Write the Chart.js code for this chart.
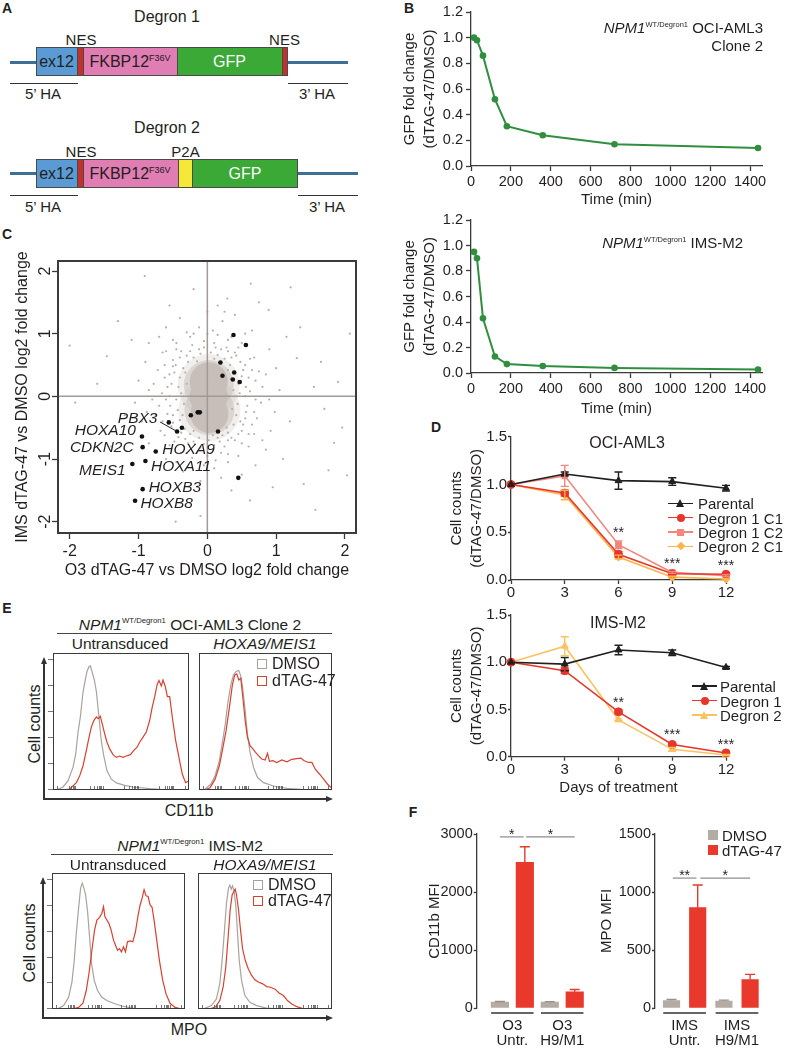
<!DOCTYPE html>
<html><head><meta charset="utf-8">
<script src="https://cdn.jsdelivr.net/npm/chart.js@4.4.1/dist/chart.umd.min.js"></script>
<style>
html,body{margin:0;padding:0;background:#fff}
body{position:relative;width:786px;height:1050px;overflow:hidden;font-family:"Liberation Sans",Arial,Helvetica,sans-serif;color:#231f20}
.a{position:absolute;white-space:nowrap;line-height:1}
canvas{position:absolute}
sup{font-size:0.5em;position:relative;top:-0.8em;vertical-align:baseline;line-height:0}
sup.big{font-size:0.56em;top:-0.7em}
</style>
</head><body>
<script>
// ================= DATA =================
// Panel B: GFP degradation time course
const gfpTimes   = [15, 30, 60, 120, 180, 360, 720, 1440];
const gfpOciAml3 = [1.00, 0.98, 0.86, 0.52, 0.31, 0.24, 0.17, 0.14];
const gfpImsM2   = [0.95, 0.90, 0.43, 0.13, 0.07, 0.055, 0.04, 0.027];
const timeTicks  = [0, 200, 400, 600, 800, 1000, 1200, 1400];
const gfpTicks   = [0, 0.2, 0.4, 0.6, 0.8, 1.0, 1.2];

// Panel C: log2 fold changes (highlighted genes)
const log2Ticks = [-2, -1, 0, 1, 2];
const hitX    = [0.38, 0.56, 0.19, 0.39, 0.22, 0.37, 0.47, -0.14, -0.11, -0.24, 0.155, -0.37, -0.44, -0.56, -0.95, -0.94, -0.75, -0.90, -1.09, -0.94, -1.05, 0.45];
const hitY    = [0.98, 0.82, 0.54, 0.38, 0.33, 0.27, 0.23, -0.255, -0.255, -0.30, -0.56, -0.50, -0.56, -0.415, -0.64, -0.81, -0.88, -1.03, -1.08, -1.48, -1.665, -1.30];
const hitName = ['', '', '', '', '', '', '', '', '', '', '', '', 'PBX3', '', 'HOXA10', 'CDKN2C', 'HOXA9', 'HOXA11', 'MEIS1', 'HOXB3', 'HOXB8', ''];
// dense centre of the gene cloud (centres of the saturated region)
const cloudCore = [[0.02, 0.24], [0.02, 0.0], [0.03, -0.28]];
const cloudHalo = [[0.02, 0.18], [0.03, -0.22]];
// individual genes around the dense centre
const cloudPts = [
 [-0.35,0.45],[-0.28,0.55],[-0.2,0.62],[-0.1,0.68],[0.05,0.7],[0.15,0.66],[0.25,0.6],[0.33,0.5],[0.4,0.38],[-0.4,0.3],[-0.42,0.15],[0.45,0.2],[0.47,0.05],[-0.45,-0.05],[0.44,-0.12],[-0.43,-0.22],[0.42,-0.3],[-0.4,-0.38],[0.38,-0.45],[-0.33,-0.52],[0.3,-0.58],[-0.25,-0.6],[-0.12,-0.66],[0.02,-0.7],[0.15,-0.66],[0.22,-0.62],
 [-0.32,0.38],[-0.38,0.05],[0.38,0.1],[0.36,-0.2],[-0.36,-0.3],[0.3,0.42],[0.1,0.6],[-0.15,0.56],[0.08,-0.62],[-0.2,-0.55],[0.28,-0.5],[-0.3,0.2],[0.34,0.28],[-0.34,-0.12],
 [-0.48,0.38],[0.5,0.32],[-0.5,-0.3],[0.48,-0.4],[-0.3,0.65],[0.2,0.75],[-0.05,0.78],[0.35,0.62],[-0.38,-0.58],[0.1,-0.78],[-0.18,-0.76],[0.35,-0.66],
 [-0.46,0.5],[-0.52,0.2],[-0.55,0.0],[-0.54,-0.15],[-0.5,-0.42],[-0.45,-0.55],[-0.32,-0.68],[-0.2,-0.72],[-0.05,-0.76],[0.18,-0.72],[0.3,-0.7],[0.45,-0.6],[0.52,-0.45],[0.56,-0.25],[0.55,0.0],[0.56,0.15],[0.52,0.42],[0.48,0.55],[0.4,0.7],[0.3,0.72],[0.12,0.78],[-0.12,0.75],[-0.25,0.72],[-0.4,0.62],[-0.5,0.48],
 [-0.55,0.35],[-0.5,0.58],[-0.38,0.72],[-0.22,0.82],[-0.05,0.88],[0.1,0.85],[0.28,0.78],[0.42,0.65],[0.55,0.5],[0.6,0.3],[0.62,0.08],[0.58,-0.15],[0.55,-0.35],[0.5,-0.55],[0.4,-0.7],[0.25,-0.8],[0.08,-0.85],[-0.1,-0.82],[-0.28,-0.75],[-0.42,-0.65],[-0.52,-0.48],[-0.58,-0.28],[-0.6,-0.05],[-0.58,0.15],
 [-0.62,0.5],[0.65,0.42],[0.68,-0.25],[-0.65,-0.4],[0.45,0.78],[-0.45,0.85],[0.15,0.98],[-0.25,0.95],[0.3,-0.92],[-0.3,-0.9],[0.6,-0.6],[-0.6,0.72],
 [-0.62,0.3],[-0.66,0.05],[-0.7,-0.15],[-0.62,-0.62],[-0.48,-0.72],[-0.15,-0.9],[0.0,-0.95],[0.2,-0.9],[0.5,-0.75],[0.65,-0.45],[0.7,-0.05],[0.7,0.25],[0.62,0.6],[0.3,0.9],[0.0,1.0],[-0.2,1.0],[-0.45,0.75],
 [-0.72,0.42],[-0.65,0.7],[-0.5,0.9],[-0.3,1.02],[-0.12,1.1],[0.08,1.05],[0.22,1.2],[0.35,0.95],[0.5,0.85],[0.68,0.62],[0.75,0.4],[0.8,0.15],[0.78,-0.1],[0.72,-0.35],[0.68,-0.6],[0.6,-0.8],[0.45,-0.95],[0.3,-1.05],[0.12,-1.02],[-0.05,-1.1],[-0.22,-0.98],[-0.38,-0.9],[-0.55,-0.78],[-0.68,-0.55],[-0.75,-0.3],[-0.8,-0.05],[-0.78,0.2],
 [0.85,0.35],[0.9,-0.05],[-0.85,0.1],[-0.88,-0.25],[0.55,1.0],[-0.7,0.95],[0.8,-0.7],[-0.45,-1.05],[0.1,-1.15],[0.25,1.35],
 [-0.9,0.55],[-0.85,0.85],[-0.6,1.1],[-0.4,1.25],[0.0,1.35],[0.15,1.45],[0.4,1.3],[0.65,1.05],[0.9,0.75],[1.0,0.45],[1.05,0.1],[0.98,-0.25],[0.92,-0.55],[0.85,-0.85],[0.7,-1.1],[0.5,-1.25],[0.2,-1.3],[-0.1,-1.35],[-0.35,-1.2],[-0.6,-1.0],[-0.85,-0.75],[-0.95,-0.4],[-1.05,-0.1],[-1.0,0.25],
 [-0.91,1.92],[-0.2,1.71],[1.21,1.74],[-2.0,0.81],[-1.46,0.64],[2.07,1.0],[1.9,0.23],[1.96,-0.5],[2.03,-1.26],[1.57,-1.81],[0.62,-1.66],[-0.46,-2.0],[-0.1,-1.91],[1.76,-1.18],[0.63,1.8],[0.29,1.56],[0.89,1.38],[-1.92,-0.1],[1.84,-0.74],[1.3,0.61],[1.55,0.15],[-1.3,1.2],[-1.6,0.2],[-1.2,-0.3],[-1.4,-0.8],[1.2,-0.4],[1.35,1.1],[1.1,-1.0],[-0.7,-1.5],[0.35,-1.5],[1.4,-1.4],[-1.1,0.9],[0.75,1.5],[-0.55,1.45],[1.65,0.55],[1.15,0.95],[-1.7,-0.6],[0.95,-1.45],[1.7,-0.2]
];

// Panel D: cell counts (dTAG-47/DMSO)
const days       = [0, 3, 6, 9, 12];
const countTicks = [0, 0.5, 1.0, 1.5];
const ociParental    = [1.00, 1.11, 1.04, 1.03, 0.96];
const ociParentalErr = [0, 0.02, 0.09, 0.04, 0.03];
const ociDeg1C1      = [1.00, 0.91, 0.27, 0.065, 0.06];
const ociDeg1C1Err   = [0, 0.03, 0.03, 0.01, 0.01];
const ociDeg1C2      = [1.00, 1.09, 0.37, 0.08, 0.045];
const ociDeg1C2Err   = [0, 0.11, 0.04, 0.01, 0.01];
const ociDeg2C1      = [1.00, 0.89, 0.24, 0.03, 0.01];
const ociDeg2C1Err   = [0, 0.05, 0.02, 0.01, 0.005];
const imsParental    = [1.00, 0.98, 1.13, 1.10, 0.945];
const imsParentalErr = [0, 0.07, 0.05, 0.03, 0.01];
const imsDeg1        = [1.00, 0.91, 0.475, 0.13, 0.04];
const imsDeg1Err     = [0, 0.03, 0.02, 0.01, 0.005];
const imsDeg2        = [1.00, 1.17, 0.39, 0.078, 0.018];
const imsDeg2Err     = [0, 0.10, 0.01, 0.02, 0.005];
const ociStars = [[6, 0.50, '**'], [9, 0.18, '***'], [12, 0.16, '***']];
const imsStars = [[6, 0.58, '**'], [9, 0.24, '***'], [12, 0.135, '***']];

// Panel E: flow histograms (x = % of channel range, y = % of max count)
const cd11bUntrDmso = [[0,0],[3.7,0.5],[7.4,2.2],[11,6.6],[14.7,16.5],[16.7,26.3],[18.4,42.3],[20.1,53.3],[22.1,71.7],[23.5,79.1],[25,86.5],[26.5,90.2],[27.5,90.7],[28.9,85.7],[30.4,80.3],[31.9,71.7],[33.8,53.3],[35.5,36.1],[37.3,25.1],[39.7,14],[42.9,7.9],[46.6,5.2],[52.7,3.4],[58.8,2.2],[71.1,1],[83.3,0.2],[100,0]];
const cd11bUntrDtag = [[6.1,0],[12.3,0.7],[17.2,5.4],[19.6,10.3],[22.1,17.7],[24.5,28.7],[26.5,38.6],[28.2,45.9],[30.1,50.9],[31.9,53.3],[33.3,52.1],[34.8,53.8],[36.3,47.9],[38,41],[39.7,34.9],[41.7,30],[44.1,25.8],[46.6,23.8],[49,24.8],[51.5,23.8],[53.9,24.8],[56.9,25.8],[59.3,28.7],[61.8,31.2],[63.7,34.9],[66.2,38.6],[68.6,42.3],[71.1,50.9],[73,60.7],[74.8,68.1],[76.5,76.7],[77.9,79.9],[79.7,75.9],[80.9,80.3],[82.6,75.4],[84.1,68.1],[85.8,68.1],[87.7,53.3],[90.2,36.1],[92.6,23.8],[95.1,11.5],[97.5,5.4],[100,6.6]];
const cd11bHmDmso = [[0,0],[4.5,0.5],[8.8,4.2],[12.1,10.3],[15.3,21.4],[17.8,36.1],[19.8,48.4],[21.6,63.1],[23.9,76.7],[25.9,84],[27.9,86.5],[29.9,87.2],[31.4,83.3],[32.9,74.2],[34.7,58.2],[36.4,41],[38.4,27.5],[41,16.5],[44,9.1],[48.5,5.4],[56,2.9],[66.1,1.2],[81.2,0.2],[100,0]];
const cd11bHmDtag = [[4.5,0],[8.3,1.7],[12.1,7.9],[15.3,17.7],[17.8,30],[20.4,43.5],[22.9,60.7],[25.1,76.7],[26.9,84],[28.4,84.8],[29.9,80.3],[31.4,81.6],[32.9,68.1],[34.7,50.9],[36.4,38.6],[38.4,32.4],[40.5,30],[42.5,27.5],[44.7,25.1],[47.2,22.6],[49.7,21.9],[51.5,26.8],[53,20.9],[55.5,21.4],[58.5,20.1],[62.3,21.9],[66.1,20.6],[69.8,22.4],[73.6,22.9],[76.6,23.3],[79.1,21.4],[82.4,20.1],[84.9,20.1],[87.4,15.2],[90.7,11.5],[93.7,7.9],[96.7,4.2],[100,1.2]];
const mpoUntrDmso = [[0,0],[5,0.5],[8.75,2.5],[12.5,8.6],[15,19.8],[16.75,35.8],[18.25,55.6],[20,74.1],[21.5,88.9],[22.75,92.6],[24,88.9],[25.25,84],[26.75,71.6],[28.25,53.1],[29.75,33.3],[31.75,21],[34.25,13.6],[37.5,8.6],[41.25,6.2],[46.25,4.2],[52.5,2.2],[61.25,0.5],[73.75,0],[100,0]];
const mpoUntrDtag = [[15,0],[20,1.2],[23.25,4.2],[25.75,13.6],[27.75,25.9],[30,43.2],[32,58],[33.75,65.4],[35.75,67.4],[37.5,70.4],[38.75,75.3],[39.75,67.9],[41.25,65.4],[42.75,63],[44.5,58],[46.25,50.6],[47.75,46.9],[49.25,43.2],[50.75,44.4],[52.25,42],[53.75,45.7],[55.25,42],[56.75,49.4],[58.75,50.1],[60.75,49.4],[62.75,56.8],[64.75,69.1],[66.25,76.5],[67.75,81.5],[69.25,87.7],[70.75,83.2],[72.25,82.7],[73.75,76.5],[75.25,74.8],[76.75,65.4],[78.75,50.6],[80.75,35.8],[83.25,21],[85.75,11.1],[88.75,4.2],[92.5,1.2],[97.5,0]];
const mpoHmDmso = [[0,0],[5,0.5],[10,2.5],[13.75,7.4],[16.25,18.5],[18,35.8],[19.75,58],[21.25,77.8],[22.75,88.9],[23.75,91.1],[24.75,88.1],[25.75,90.6],[27,86.4],[28.25,75.3],[29.5,55.6],[30.75,35.8],[32.5,21],[35,9.9],[38.75,4.9],[43.75,2.5],[51.25,0.7],[63.75,0],[100,0]];
const mpoHmDtag = [[8.75,0],[13.25,1.7],[16.25,6.2],[18.75,16],[20.75,30.9],[22.5,53.1],[24,72.8],[25.5,84],[26.75,86.4],[27.75,88.1],[28.75,84],[30.25,72.8],[31.75,58],[33.25,44.4],[35.25,35.8],[37.5,29.6],[40,24.7],[42.5,21.5],[45,19.8],[48.25,18.5],[51.25,16.5],[54.25,16],[57.5,14.6],[60.75,11.6],[63.75,9.9],[66.75,6.2],[70,3.7],[73.75,1.7],[78.75,0.2],[83.75,0]];
const histXTicks = [3, 12, 13.5, 14.5, 15.5, 16.5, 27, 30, 32, 33.5, 34.5, 35.5, 36.5, 52, 56, 58, 59.5, 60.5, 61.5, 62.5, 78, 82, 84, 85.5, 86.5, 87.5, 88.5, 97];
const histYTicks = [0.5, 19.5, 38.5, 57.5, 76.5, 95.5];

// Panel F: MFI bars
const o3Groups  = [['O3', 'Untr.'], ['O3', 'H9/M1']];
const cd11bDmso = [100, 100];
const cd11bDmsoErr = [12, 10];
const cd11bDtag = [2510, 280];
const cd11bDtagErr = [270, 40];
const cd11bTicks = [0, 1000, 2000, 3000];
const imsGroups = [['IMS', 'Untr.'], ['IMS', 'H9/M1']];
const mpoDmso = [65, 60];
const mpoDmsoErr = [8, 8];
const mpoDtag = [865, 245];
const mpoDtagErr = [195, 45];
const mpoTicks = [0, 500, 1000, 1500];

// ================= HELPERS =================
const AX = '#3a3a3a';
const GREEN = '#2f8f3f';
const FONT = '"Liberation Sans", Arial, Helvetica, sans-serif';
const NARROW = '"Liberation Sans Narrow", "Arial Narrow", "Liberation Sans", Arial, sans-serif';
Chart.defaults.font.family = FONT;
Chart.defaults.font.size = 15;
Chart.defaults.color = '#231f20';
Chart.defaults.animation = false;
Chart.defaults.responsive = false;
Chart.defaults.maintainAspectRatio = false;
Chart.defaults.devicePixelRatio = 1;
Chart.defaults.plugins.legend.display = false;
Chart.defaults.plugins.tooltip.enabled = false;
Chart.defaults.events = [];

function cv(l, t, w, h) {
  const c = document.createElement('canvas');
  c.width = w; c.height = h;
  c.style.left = l + 'px'; c.style.top = t + 'px';
  c.style.width = w + 'px'; c.style.height = h + 'px';
  document.body.appendChild(c);
  return c;
}
function txt(html, x, y, align, size, extra) {
  extra = extra || {};
  const d = document.createElement('div');
  d.className = 'a';
  d.innerHTML = html;
  const tx = align === 'c' ? '-50%' : align === 'r' ? '-100%' : '0';
  d.style.cssText = 'left:' + x + 'px;top:' + y + 'px;font-size:' + (size || 15) + 'px;transform:translate(' + tx + ',-50%)' + (extra.rot ? ' rotate(' + extra.rot + 'deg)' : '') + ';' + (extra.css || '');
  document.body.appendChild(d);
  return d;
}
function rect(x1, y1, x2, y2, bg, border) {
  const d = document.createElement('div');
  d.style.cssText = 'position:absolute;left:' + x1 + 'px;top:' + y1 + 'px;width:' + (x2 - x1) + 'px;height:' + (y2 - y1) + 'px;background:' + bg + ';box-sizing:border-box;' + (border ? 'border:1px solid ' + border + ';' : '');
  document.body.appendChild(d);
  return d;
}
function tri(x, y, dir, color) {
  const d = document.createElement('div');
  let css = 'position:absolute;width:0;height:0;';
  if (dir === 'up') css += 'left:' + (x - 3.5) + 'px;top:' + y + 'px;border-left:3.5px solid transparent;border-right:3.5px solid transparent;border-bottom:7px solid ' + color + ';';
  else css += 'left:' + (x - 7) + 'px;top:' + (y - 3.5) + 'px;border-top:3.5px solid transparent;border-bottom:3.5px solid transparent;border-left:7px solid ' + color + ';';
  d.style.cssText = css;
  document.body.appendChild(d);
}
function marker(cx, cy, color, shape) {
  const d = document.createElement('div');
  let css = 'position:absolute;';
  if (shape === 'circle') css += 'left:' + (cx - 4) + 'px;top:' + (cy - 4) + 'px;width:8px;height:8px;border-radius:50%;background:' + color + ';';
  else if (shape === 'rect') css += 'left:' + (cx - 3.5) + 'px;top:' + (cy - 3.5) + 'px;width:7px;height:7px;background:' + color + ';';
  else if (shape === 'rectRot') css += 'left:' + (cx - 3) + 'px;top:' + (cy - 3) + 'px;width:6px;height:6px;background:' + color + ';transform:rotate(45deg);';
  else css += 'left:' + (cx - 4.5) + 'px;top:' + (cy - 4.5) + 'px;width:0;height:0;border-left:4.5px solid transparent;border-right:4.5px solid transparent;border-bottom:8px solid ' + color + ';';
  d.style.cssText = css;
  document.body.appendChild(d);
}
const setTicks = arr => s => { s.ticks = arr.map(v => ({ value: v })); };
const fixW = w => s => { s.width = w; };
const fixH = h => s => { s.height = h; };
const tickGrid = len => ({ display: true, drawOnChartArea: false, drawTicks: true, tickLength: len, tickColor: AX, tickWidth: 1.3 });
const axBorder = { display: true, color: AX, width: 1.3 };
const titleFont = { size: 15, lineHeight: 1.33 };
const plain = v => String(v);

const errPlugin = {
  id: 'errbars',
  afterDatasetsDraw(chart) {
    const ctx = chart.ctx, ys = chart.scales.y;
    chart.data.datasets.forEach((ds, di) => {
      if (!ds.errors) return;
      const meta = chart.getDatasetMeta(di);
      ctx.save();
      ctx.strokeStyle = ds.errColor || ds.borderColor;
      ctx.lineWidth = 1.4;
      meta.data.forEach((el, i) => {
        const e = ds.errors[i];
        if (!e) return;
        const v = ds.data[i].y;
        const top = ys.getPixelForValue(v + e);
        const bot = ds.errUpOnly ? ys.getPixelForValue(v) : ys.getPixelForValue(v - e);
        const cw = ds.capHalf || 4;
        ctx.beginPath();
        ctx.moveTo(el.x, top); ctx.lineTo(el.x, bot);
        ctx.moveTo(el.x - cw, top); ctx.lineTo(el.x + cw, top);
        if (!ds.errUpOnly) { ctx.moveTo(el.x - cw, bot); ctx.lineTo(el.x + cw, bot); }
        ctx.stroke();
      });
      ctx.restore();
    });
  }
};
function atData(chart, canvasLeft, canvasTop, x, y) {
  return [canvasLeft + chart.scales.x.getPixelForValue(x), canvasTop + chart.scales.y.getPixelForValue(y)];
}

// ================= PANEL LETTERS =================
[['A', 7, 8], ['B', 409, 8], ['C', 7, 234], ['D', 436, 427], ['E', 7, 608], ['F', 413, 812]].forEach(p => txt(p[0], p[1], p[2], 'c', 14, { css: 'font-weight:bold' }));

// ================= PANEL A (schematic) =================
(function () {
  const BL = '#5b9bd5', RD = '#c4302a', PK = '#e07db2', GR = '#3aa936', YL = '#f4e838', LN = '#3f6e96', OL = '#4a4a4a';
  txt('Degron 1', 167, 17, 'c', 16);
  rect(10, 60.5, 348, 63.5, LN);
  rect(36, 47, 78, 76, BL, OL); rect(77, 47, 83.5, 76, RD, OL); rect(82.5, 47, 178, 76, PK, OL); rect(177, 47, 282.5, 76, GR, OL); rect(281.5, 47, 287.5, 76, RD, OL);
  txt('ex12', 56.5, 62, 'c', 16); txt('FKBP12<sup class="big">F36V</sup>', 130, 62, 'c', 16); txt('GFP', 229.5, 62, 'c', 16, { css: 'color:#fff' });
  txt('NES', 81, 39, 'c', 15); txt('NES', 284.5, 39, 'c', 15);
  rect(10, 82.5, 77.5, 84, '#333'); rect(287.5, 82.5, 347.5, 84, '#333');
  txt('5’ HA', 43, 93, 'c', 15); txt('3’ HA', 317, 93, 'c', 15);

  txt('Degron 2', 167, 128, 'c', 16);
  rect(10, 172, 358, 175, LN);
  rect(36, 159, 78, 188, BL, OL); rect(77, 159, 83.5, 188, RD, OL); rect(82.5, 159, 179, 188, PK, OL); rect(178, 159, 193, 188, YL, OL); rect(192, 159, 298, 188, GR, OL);
  txt('ex12', 56.5, 174, 'c', 16); txt('FKBP12<sup class="big">F36V</sup>', 130, 174, 'c', 16); txt('GFP', 245, 174, 'c', 16, { css: 'color:#fff' });
  txt('NES', 81, 151, 'c', 15); txt('P2A', 185.5, 151, 'c', 15);
  rect(10, 194.5, 77.5, 196, '#333'); rect(298, 194.5, 358, 196, '#333');
  txt('5’ HA', 43, 206, 'c', 15); txt('3’ HA', 327, 206, 'c', 15);
})();

// ================= PANEL B =================
function gfpChart(top, h, padTop, xH, vals) {
  return new Chart(cv(400, top, 386, h), {
    type: 'line',
    data: { datasets: [{ data: gfpTimes.map((t, i) => ({ x: t, y: vals[i] })), borderColor: GREEN, backgroundColor: GREEN, borderWidth: 2, pointRadius: 3.3, pointBorderWidth: 0, clip: false }] },
    options: {
      layout: { padding: { top: padTop, right: 24, left: 0, bottom: 0 } },
      scales: {
        x: { type: 'linear', min: 0, max: 1460, afterBuildTicks: setTicks(timeTicks), afterFit: fixH(xH), grid: tickGrid(5), border: axBorder,
             ticks: { padding: 2, maxRotation: 0, minRotation: 0, autoSkip: false, callback: plain, font: { size: 14.5 } },
             title: { display: true, text: 'Time (min)', font: titleFont, padding: { top: 0, bottom: 0 } } },
        y: { type: 'linear', min: 0, max: 1.2, afterBuildTicks: setTicks(gfpTicks), afterFit: fixW(71), grid: tickGrid(5), border: axBorder, ticks: { padding: 3, font: { size: 14.5 }, callback: v => Number(v).toFixed(1) },
             title: { display: true, text: ['GFP fold change', '(dTAG-47/DMSO)'], font: titleFont, padding: { top: 0, bottom: 0 } } }
      }
    }
  });
}
gfpChart(0, 210, 12, 44, gfpOciAml3);
gfpChart(206, 213, 14, 46, gfpImsM2);
txt('<i>NPM1</i><sup>WT/Degron1</sup> OCI-AML3', 763, 27, 'r', 15);
txt('Clone 2', 763, 45, 'r', 15);
txt('<i>NPM1</i><sup>WT/Degron1</sup> IMS-M2', 743, 242, 'r', 15);

// ================= PANEL C =================
(function () {
  const L = 0, T = 225;
  const cTitle = { size: 16, lineHeight: 1.33 };
  const cPlugin = {
    id: 'cbox',
    afterDatasetsDraw(chart) {
      const a = chart.chartArea, g = chart.ctx, xs = chart.scales.x, ys = chart.scales.y;
      g.save();
      g.strokeStyle = '#a29a96'; g.lineWidth = 1.5;
      const x0 = xs.getPixelForValue(0), y0 = ys.getPixelForValue(0);
      g.beginPath(); g.moveTo(x0, a.top); g.lineTo(x0, a.bottom); g.moveTo(a.left, y0); g.lineTo(a.right, y0); g.stroke();
      const i = hitName.indexOf('PBX3');
      const px = xs.getPixelForValue(hitX[i]), py = ys.getPixelForValue(hitY[i]);
      g.strokeStyle = '#222'; g.lineWidth = 1;
      g.beginPath(); g.moveTo(px - 17, py - 9.5); g.lineTo(px - 1, py - 0.5); g.stroke();
      g.strokeStyle = '#3b3b3b'; g.lineWidth = 2;
      g.strokeRect(a.left, a.top, a.right - a.left, a.bottom - a.top);
      g.restore();
    },
    afterDraw(chart) {
      // rotated y tick labels
      const g = chart.ctx, ys = chart.scales.y, a = chart.chartArea;
      g.save();
      g.font = '16px ' + FONT; g.fillStyle = '#231f20'; g.textAlign = 'center'; g.textBaseline = 'middle';
      ys.ticks.forEach(t => {
        g.save(); g.translate(a.left - 12, ys.getPixelForValue(t.value)); g.rotate(-Math.PI / 2);
        g.fillText(String(t.value), 0, 0); g.restore();
      });
      g.restore();
    }
  };
  const toPts = arr => arr.map(p => ({ x: p[0], y: p[1] }));
  const ch = new Chart(cv(L, T, 400, 360), {
    type: 'scatter',
    data: { datasets: [
      { data: hitX.map((x, i) => ({ x, y: hitY[i] })), pointRadius: 2.3, backgroundColor: '#111', borderWidth: 0 },
      { data: toPts(cloudPts), pointRadius: 1.1, backgroundColor: '#b8afaa', borderWidth: 0 },
      { data: toPts(cloudCore), pointRadius: 19, backgroundColor: '#c7beb9', borderWidth: 0 },
      { data: toPts(cloudHalo), pointRadius: 25, backgroundColor: 'rgba(199,190,185,0.5)', borderWidth: 0 },
      { data: toPts(cloudHalo), pointRadius: 31, backgroundColor: 'rgba(199,190,185,0.25)', borderWidth: 0 }
    ] },
    options: {
      layout: { padding: { top: 36, right: 44, left: 0, bottom: 0 } },
      scales: {
        x: { type: 'linear', min: -2.17, max: 2.16, afterBuildTicks: setTicks(log2Ticks), afterFit: fixH(52), grid: tickGrid(6), border: { display: false },
             ticks: { padding: 3, maxRotation: 0, autoSkip: false, callback: plain, font: { size: 16 } },
             title: { display: true, text: 'O3 dTAG-47 vs DMSO log2 fold change', font: cTitle, padding: { top: 0, bottom: 4 } } },
        y: { type: 'linear', min: -2.18, max: 2.16, afterBuildTicks: setTicks(log2Ticks), afterFit: fixW(58), grid: tickGrid(6), border: { display: false },
             ticks: { padding: 0, color: 'rgba(0,0,0,0)', callback: plain },
             title: { display: true, text: 'IMS dTAG-47 vs DMSO log2 fold change', font: cTitle, padding: { top: 12, bottom: 0 } } }
      }
    },
    plugins: [cPlugin]
  });
  const labelPlace = { PBX3: ['r', -19.6, -13.4], HOXA10: ['r', -6, -6], CDKN2C: ['r', -9, 0], HOXA9: ['l', 6.5, -2.4], HOXA11: ['l', 5.6, 5], MEIS1: ['r', -6.7, 6], HOXB3: ['l', 6, -1.7], HOXB8: ['l', 5.3, 2.6] };
  hitName.forEach((n, i) => {
    if (!n) return;
    const p = atData(ch, L, T, hitX[i], hitY[i]);
    const o = labelPlace[n];
    txt('<i>' + n + '</i>', p[0] + o[1], p[1] + o[2], o[0], 15.5);
  });
})();

// ================= PANEL D =================
function growthChart(top, h, padTop, xH, series, showTitle, stars) {
  const L = 440;
  const ch = new Chart(cv(L, top, 346, h), {
    type: 'line',
    data: { datasets: series.map(s => ({ data: days.map((d, i) => ({ x: d, y: s.vals[i] })), errors: s.err, borderColor: s.color, backgroundColor: s.color, pointStyle: s.shape, pointRadius: 4, pointBorderWidth: 1, borderWidth: 1.6, clip: false })) },
    options: {
      layout: { padding: { top: padTop, right: 60, left: 0, bottom: 0 } },
      scales: {
        x: { type: 'linear', min: 0, max: 12, afterBuildTicks: setTicks(days), afterFit: fixH(xH), grid: tickGrid(4), border: axBorder, ticks: { padding: 0, maxRotation: 0, callback: plain },
             title: { display: showTitle, text: 'Days of treatment', font: titleFont, padding: { top: 0, bottom: 0 } } },
        y: { type: 'linear', min: 0, max: 1.5, afterBuildTicks: setTicks(countTicks), afterFit: fixW(71), grid: tickGrid(3), border: axBorder, ticks: { padding: 1, callback: v => Number(v).toFixed(1) },
             title: { display: true, text: ['Cell counts', '(dTAG-47/DMSO)'], font: titleFont, padding: { top: 7, bottom: 0 } } }
      }
    },
    plugins: [errPlugin]
  });
  stars.forEach(s => { const p = atData(ch, L, top, s[0], s[1]); txt(s[2], p[0], p[1], 'c', 14); });
  return ch;
}
const ociSeries = [
  { label: 'Parental', vals: ociParental, err: ociParentalErr, color: '#231f20', shape: 'triangle' },
  { label: 'Degron 1 C1', vals: ociDeg1C1, err: ociDeg1C1Err, color: '#e8352b', shape: 'circle' },
  { label: 'Degron 1 C2', vals: ociDeg1C2, err: ociDeg1C2Err, color: '#f2857c', shape: 'rect' },
  { label: 'Degron 2 C1', vals: ociDeg2C1, err: ociDeg2C1Err, color: '#fbb449', shape: 'rectRot' }
];
const imsSeries = [
  { label: 'Parental', vals: imsParental, err: imsParentalErr, color: '#231f20', shape: 'triangle' },
  { label: 'Degron 1', vals: imsDeg1, err: imsDeg1Err, color: '#e8352b', shape: 'circle' },
  { label: 'Degron 2', vals: imsDeg2, err: imsDeg2Err, color: '#fdc25f', shape: 'triangle' }
];
growthChart(425, 180, 11.7, 25, ociSeries, false, ociStars);
growthChart(605, 193, 10, 41.3, imsSeries, true, imsStars);
txt('OCI-AML3', 627, 443, 'c', 16);
txt('IMS-M2', 618, 623, 'c', 16);
function legendRows(x, ys, series, gap) {
  series.forEach((s, i) => {
    rect(x, ys[i] - 0.8, x + 25, ys[i] + 0.8, s.color);
    marker(x + 12.5, ys[i], s.color, s.shape);
    txt(s.label, x + gap, ys[i], 'l', 15);
  });
}
legendRows(668, [503.3, 517.6, 532, 546.3], ociSeries, 30);
legendRows(692, [686, 700.5, 715], imsSeries, 28);

// ================= PANEL E =================
function histChart(box, dmso, dtag, leftTicks) {
  const padL = leftTicks ? 6 : 0;
  const w = box[2] - box[0], h = box[3] - box[1];
  const toPts = arr => arr.map(p => ({ x: p[0], y: p[1] }));
  const plug = {
    id: 'hbox',
    afterDraw(ch) {
      const a = ch.chartArea, g = ch.ctx, xs = ch.scales.x, ys = ch.scales.y;
      g.save();
      g.strokeStyle = '#3b3b3b'; g.lineWidth = 1;
      g.strokeRect(a.left + 0.5, a.top + 0.5, w - 1, h - 1);
      g.strokeStyle = '#555'; g.lineWidth = 0.8;
      g.beginPath();
      histXTicks.forEach(v => { const x = Math.round(xs.getPixelForValue(v)) + 0.5; g.moveTo(x, a.bottom - 1); g.lineTo(x, a.bottom - 4); });
      if (leftTicks) histYTicks.forEach(v => { const y = Math.round(ys.getPixelForValue(v)) + 0.5; g.moveTo(a.left - 5, y); g.lineTo(a.left, y); });
      g.stroke();
      g.restore();
    }
  };
  new Chart(cv(box[0] - padL, box[1], w + padL + 1, h + 1), {
    type: 'line',
    data: { datasets: [
      { data: toPts(dtag), borderColor: '#d8412f', borderWidth: 1.2, pointRadius: 0, tension: 0 },
      { data: toPts(dmso), borderColor: '#aaa29e', borderWidth: 1.2, pointRadius: 0, tension: 0 }
    ] },
    options: {
      layout: { padding: { left: padL, right: 1, top: 0, bottom: 1 } },
      scales: { x: { type: 'linear', display: false, min: 0, max: 100 }, y: { type: 'linear', display: false, min: 0, max: 100 } }
    },
    plugins: [plug]
  });
}
histChart([53, 653, 189, 790], cd11bUntrDmso, cd11bUntrDtag, true);
histChart([199, 653, 332, 790], cd11bHmDmso, cd11bHmDtag, false);
histChart([52, 873, 185, 1009], mpoUntrDmso, mpoUntrDtag, true);
histChart([198, 873, 332, 1009], mpoHmDmso, mpoHmDtag, false);
(function () {
  const block = (yTitle, yLine, xL, xR, ySub, subL, subR, boxTop, boxBot, arrowX, arrowY, ylabX, xLab, legX, legY) => {
    txt('<i>NPM1</i><sup>WT/Degron1</sup> ' + yTitle, 190, yLine - 8.5, 'c', 15.5);
    rect(xL, yLine, xR, yLine + 1, '#444');
    txt('Untransduced', subL, ySub, 'c', 15.5);
    txt('<i>HOXA9/MEIS1</i>', subR, ySub, 'c', 15.5);
    rect(arrowX - 0.6, boxTop + 10, arrowX + 0.6, arrowY + 0.6, '#333'); tri(arrowX, boxTop + 4, 'up', '#333');
    rect(arrowX - 0.6, arrowY - 0.6, 326, arrowY + 0.6, '#333'); tri(333, arrowY, 'right', '#333');
    txt('Cell counts', ylabX, (boxTop + boxBot) / 2 + 2, 'c', 16, { rot: -90 });
    txt(xLab, 189, arrowY + 12, 'c', 16);
    rect(legX, legY[0] - 5, legX + 10, legY[0] + 5, 'transparent', '#a8a09c').style.borderWidth = '1.5px';
    rect(legX, legY[1] - 5, legX + 10, legY[1] + 5, 'transparent', '#d8412f').style.borderWidth = '1.5px';
    txt('DMSO', legX + 15, legY[0], 'l', 16);
    txt('dTAG-47', legX + 15, legY[1], 'l', 16);
  };
  block('OCI-AML3 Clone 2', 633, 57, 332, 644, 120, 265, 653, 790, 44, 799, 35, 'CD11b', 257, [663.5, 680.5]);
  block('IMS-M2', 854, 51, 333, 865, 118, 265, 873, 1009, 43, 1018, 30, 'MPO', 253, [884.5, 900.5]);
})();

// ================= PANEL F =================
function mfiChart(L, W, yW, xMin, padR, groups, dmso, dmsoErr, dtag, dtagErr, yMax, yTicks, yTitle, titlePad, barW, brackets) {
  const T = 820;
  const fPlug = {
    id: 'fdeco',
    afterDatasetsDraw(ch) {
      const g = ch.ctx, a = ch.chartArea, xs = ch.scales.x, ys = ch.scales.y;
      g.save();
      g.strokeStyle = '#333'; g.lineWidth = 1.3;
      groups.forEach((gr, i) => {
        const x1 = xs.getPixelForValue(2 * i + 1) - barW / 2, x2 = xs.getPixelForValue(2 * i + 2) + barW / 2;
        g.beginPath(); g.moveTo(x1, a.bottom + 5); g.lineTo(x2, a.bottom + 5); g.stroke();
      });
      g.strokeStyle = '#8c8c8c'; g.lineWidth = 1.2;
      brackets.forEach(b => {
        const y = ys.getPixelForValue(b[2]);
        g.beginPath(); g.moveTo(xs.getPixelForValue(b[0]), y); g.lineTo(xs.getPixelForValue(b[1]), y); g.stroke();
      });
      g.restore();
    }
  };
  const ch = new Chart(cv(L, T, W, 230), {
    type: 'bar',
    data: { datasets: [
      { data: dmso.map((v, i) => ({ x: 2 * i + 1, y: v })), errors: dmsoErr, errUpOnly: true, errColor: '#9a8f89', capHalf: 5, backgroundColor: '#b5aba5', borderColor: '#b5aba5', borderWidth: 0, grouped: false, barThickness: barW },
      { data: dtag.map((v, i) => ({ x: 2 * i + 2, y: v })), errors: dtagErr, errUpOnly: true, errColor: '#e8392c', capHalf: 5, backgroundColor: '#e8392c', borderColor: '#e8392c', borderWidth: 0, grouped: false, barThickness: barW }
    ] },
    options: {
      layout: { padding: { top: 14, right: padR, left: 0, bottom: 0 } },
      scales: {
        x: { type: 'linear', offset: false, min: xMin, max: 4.5, afterBuildTicks: s => { s.ticks = groups.map((g, i) => ({ value: 2 * i + 1.5 })); }, afterFit: fixH(42),
             grid: { display: false, drawTicks: false }, border: { display: false },
             ticks: { padding: 10, maxRotation: 0, autoSkip: false, font: { size: 15, lineHeight: 1.0 }, callback: (v, i) => groups[i] } },
        y: { type: 'linear', min: 0, max: yMax, afterBuildTicks: setTicks(yTicks), afterFit: fixW(yW), grid: tickGrid(3), border: axBorder, ticks: { padding: 1, font: { size: 14.5, family: NARROW }, callback: plain },
             title: { display: true, text: yTitle, font: titleFont, padding: { top: titlePad, bottom: 0 } } }
      }
    },
    plugins: [errPlugin, fPlug]
  });
  brackets.forEach(b => { const p = atData(ch, L, T, (b[0] + b[1]) / 2, b[2]); txt(b[3], p[0], p[1] - 3, 'c', 14); });
  return ch;
}
mfiChart(420, 175, 56.7, 0.07, 3, o3Groups, cd11bDmso, cd11bDmsoErr, cd11bDtag, cd11bDtagErr, 3000, cd11bTicks, 'CD11b MFI', 5, 17.5,
  [[1, 1.95, 2950, '*'], [2.05, 4, 2950, '*']]);
mfiChart(595, 191, 60, 0.37, 22.8, imsGroups, mpoDmso, mpoDmsoErr, mpoDtag, mpoDtagErr, 1500, mpoTicks, 'MPO MFI', 2, 16.5,
  [[1.05, 1.95, 1120, '**'], [2.1, 4, 1120, '*']]);
rect(708, 830, 718, 840, '#b5aba5'); txt('DMSO', 722, 835, 'l', 15);
rect(708, 845, 718, 855, '#e8392c'); txt('dTAG-47', 722, 850, 'l', 15);
</script>
</body></html>
